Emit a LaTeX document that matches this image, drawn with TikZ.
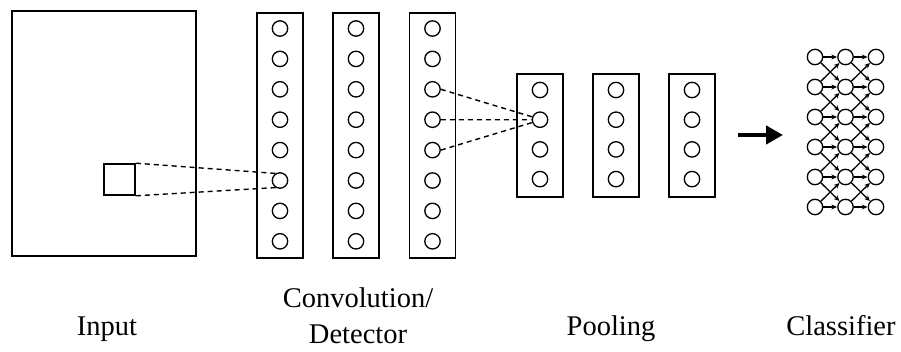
\documentclass[tikz,border=0pt]{standalone}
\usepackage{fontspec}
\setmainfont{Liberation Serif}
\usetikzlibrary{arrows.meta}
\begin{document}
\begin{tikzpicture}[x=1pt,y=-1pt,
  box/.style={draw,line width=1.6pt,inner sep=0pt},
  unit/.style={draw,circle,line width=1.3pt,minimum size=15.4pt,inner sep=0pt},
  link/.style={line width=1.4pt,dash pattern=on 5pt off 4pt},
  fc/.style={line width=1.3pt,-{Stealth[length=5.5pt,width=5pt]},shorten >=0.2pt},
  caption/.style={font=\fontsize{28.5}{36}\selectfont,anchor=base,inner sep=0pt}]
\useasboundingbox (0,0) rectangle (901,351);

% input image and receptive field
\node[box,minimum width=184pt,minimum height=245pt] (img) at (104,133.5) {};
\node[box,minimum width=31pt,minimum height=31pt] (patch) at (119.5,179.5) {};

% convolution / detector layers
\foreach \c/\x in {1/280,2/356,3/432.5}{
  \node[box,minimum width=46pt,minimum height=245pt] (conv\c) at (\x,135.5) {};
  \foreach \r in {1,...,8}
    \node[unit] (cv\c-\r) at (\x,{28.5+30.4*(\r-1)}) {};
}

% pooling layers
\foreach \c/\x in {1/540,2/616,3/692}{
  \node[box,minimum width=46pt,minimum height=123pt] (pool\c) at (\x,135.5) {};
  \foreach \r in {1,...,4}
    \node[unit] (pl\c-\r) at (\x,{90+29.7*(\r-1)}) {};
}

% receptive field links
\draw[link] (patch.north east) -- (cv1-6.122);
\draw[link] (patch.south east) -- (cv1-6.238);
\draw[link] (cv3-3.east) -- (pl1-2.160);
\draw[link] (cv3-4.east) -- (pl1-2.west);
\draw[link] (cv3-5.east) -- (pl1-2.200);

% flow arrow
\coordinate (fa) at (738,135);
\coordinate (fb) at (783,135);
\draw[line width=4.5pt,-{Triangle[length=17pt,width=18pt]}] (fa) -- (fb);

% classifier
\foreach \c/\x in {1/815,2/845.5,3/876}
  \foreach \r in {1,...,6}
    \node[unit] (cl\c-\r) at (\x,{57+30*(\r-1)}) {};
\foreach \c/\n in {1/2,2/3}{
  \foreach \r in {1,...,6}
    \draw[fc] (cl\c-\r) -- (cl\n-\r);
  \foreach \r/\s in {1/2,2/3,3/4,4/5,5/6}{
    \draw[fc] (cl\c-\r) -- (cl\n-\s);
    \draw[fc] (cl\c-\s) -- (cl\n-\r);
  }
}

% captions
\node[caption] (tin) at (107,335) {Input};
\node[caption] (tcv1) at (358,307) {Convolution/};
\node[caption] (tcv2) at (358,343) {Detector};
\node[caption] (tpl) at (611,335) {Pooling};
\node[caption] (tcl) at (841,335) {Classifier};
\end{tikzpicture}
\end{document}
